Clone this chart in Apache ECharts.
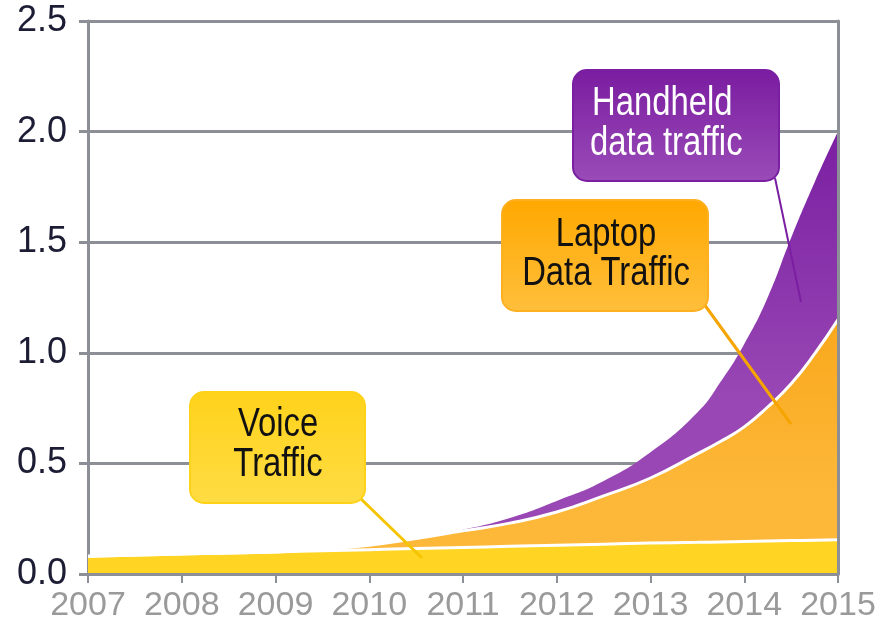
<!DOCTYPE html>
<html>
<head>
<meta charset="utf-8">
<script src="https://cdn.jsdelivr.net/npm/echarts@6/dist/echarts.min.js"></script>
<style>
  html, body { margin: 0; padding: 0; background: #fff; }
  #chart { width: 890px; height: 639px; }
</style>
</head>
<body>
<div id="chart"></div>
<script>
// values read off the picture, sampled more densely where the curves bend
// layers: voice at the bottom, laptop on it, handheld on top
const times = [2007, 2008, 2009, 2009.5, 2010, 2010.5, 2011, 2011.5, 2012, 2012.5, 2013, 2013.5, 2013.75, 2014, 2014.25, 2014.5, 2014.75, 2015]
const voice = [0.08, 0.09, 0.10, 0.105, 0.11, 0.115, 0.12, 0.125, 0.13, 0.135, 0.14, 0.143, 0.145, 0.147, 0.149, 0.151, 0.153, 0.155]
const laptop = [0, 0, 0, 0.007, 0.02, 0.045, 0.075, 0.105, 0.15, 0.218, 0.294, 0.40, 0.455, 0.518, 0.606, 0.709, 0.842, 0.995]
const handheld = [0, 0, 0, 0, 0, 0, 0.005, 0.023, 0.05, 0.067, 0.116, 0.187, 0.27, 0.375, 0.495, 0.66, 0.775, 0.85]

const FONT = '"Liberation Sans", Arial, sans-serif'
const GRID = '#8c9096'

const chart = echarts.init(document.getElementById('chart'))

// running totals, so each layer is an area from zero up to its stacked top
const voiceTop = voice.map((v, i) => [times[i], v])
const laptopTop = laptop.map((v, i) => [times[i], voice[i] + v])
const handheldTop = handheld.map((v, i) => [times[i], voice[i] + laptop[i] + v])

function box (x, y, w, h, top, bottom, border) {
  return {
    type: 'rect',
    shape: { x: x, y: y, width: w, height: h, r: 14 },
    style: {
      fill: new echarts.graphic.LinearGradient(0, 0, 0, 1, [
        { offset: 0, color: top },
        { offset: 1, color: bottom }
      ]),
      stroke: border,
      lineWidth: 2
    },
    z: 100
  }
}

// callout text, squeezed sideways to look like the narrow face of the original
function label (text, x, y, color, align) {
  return {
    type: 'text',
    x: x,
    y: y,
    scaleX: 0.82,
    style: {
      text: text,
      fill: color,
      font: '40px ' + FONT,
      align: align,
      verticalAlign: 'middle'
    },
    z: 101
  }
}

function leader (x1, y1, x2, y2, color, width) {
  return {
    type: 'line',
    shape: { x1: x1, y1: y1, x2: x2, y2: y2 },
    style: { stroke: color, lineWidth: width },
    z: 99
  }
}

const yCommon = { type: 'value', min: 0, max: 2.5, interval: 0.5 }

const option = {
  animation: false,
  grid: { left: 88, right: 52, top: 21, bottom: 65 },
  xAxis: {
    type: 'value',
    min: 2007,
    max: 2015,
    interval: 1,
    z: 10,
    axisLine: { lineStyle: { color: GRID, width: 3 } },
    axisTick: { show: true, length: 9, lineStyle: { color: GRID, width: 2 } },
    axisLabel: {
      color: '#9a9a9a',
      fontFamily: FONT,
      fontSize: 34,
      margin: 15,
      showMinLabel: true,
      showMaxLabel: true,
      formatter: v => String(v)
    },
    splitLine: { show: false }
  },
  yAxis: [
    Object.assign({}, yCommon, {
      position: 'left',
      axisLine: { show: true, lineStyle: { color: GRID, width: 3 } },
      axisTick: { show: true, length: 9, lineStyle: { color: GRID, width: 3 } },
      axisLabel: {
        color: '#1c1c34',
        fontFamily: FONT,
        fontSize: 36,
        margin: 21,
        formatter: v => v.toFixed(1)
      },
      splitLine: { lineStyle: { color: GRID, width: 3 } }
    }),
    // right frame line
    Object.assign({}, yCommon, {
      position: 'right',
      z: 10,
      axisLine: { show: true, lineStyle: { color: GRID, width: 3 } },
      axisTick: { show: false },
      axisLabel: { show: false },
      splitLine: { show: false }
    })
  ],
  series: [
    {
      name: 'Handheld data traffic',
      type: 'line',
      data: handheldTop,
      smooth: 0.5,
      symbol: 'none',
      lineStyle: { width: 0 },
      areaStyle: {
        opacity: 1,
        color: new echarts.graphic.LinearGradient(0, 0, 0, 1, [
          { offset: 0, color: '#7a1fa2' },
          { offset: 0.6, color: '#9847b4' },
          { offset: 1, color: '#9847b4' }
        ])
      }
    },
    {
      name: 'Laptop Data Traffic',
      type: 'line',
      data: laptopTop,
      smooth: 0.5,
      symbol: 'none',
      lineStyle: { color: '#ffffff', width: 3 },
      areaStyle: {
        opacity: 1,
        color: new echarts.graphic.LinearGradient(0, 0, 0, 1, [
          { offset: 0, color: '#f9a81c' },
          { offset: 0.7, color: '#fdb83a' },
          { offset: 1, color: '#fdb83a' }
        ])
      }
    },
    {
      name: 'Voice Traffic',
      type: 'line',
      data: voiceTop,
      smooth: 0.5,
      symbol: 'none',
      lineStyle: { color: '#ffffff', width: 3 },
      areaStyle: { color: '#ffd422', opacity: 1 }
    }
  ],
  graphic: [
    // handheld callout
    leader(775, 178, 801, 302, '#7a1fa2', 2),
    box(573, 70, 206, 111, '#7a1ca0', '#9a4cb8', '#7a1fa2'),
    label('Handheld', 592, 104, '#ffffff', 'left'),
    label('data traffic', 590, 144, '#ffffff', 'left'),
    // laptop callout
    leader(704, 304, 791, 424, '#f5a400', 3),
    box(502, 200, 206, 111, '#ffa800', '#ffbf3c', '#ffb020'),
    label('Laptop', 606, 235, '#111111', 'center'),
    label('Data Traffic', 606, 274, '#111111', 'center'),
    // voice callout
    leader(360, 498, 422, 558, '#f5c400', 3),
    box(190, 392, 175, 111, '#ffd21a', '#ffdc44', '#ffd21a'),
    label('Voice', 278, 425, '#111111', 'center'),
    label('Traffic', 278, 465, '#111111', 'center')
  ]
}

chart.setOption(option)
</script>
</body>
</html>
